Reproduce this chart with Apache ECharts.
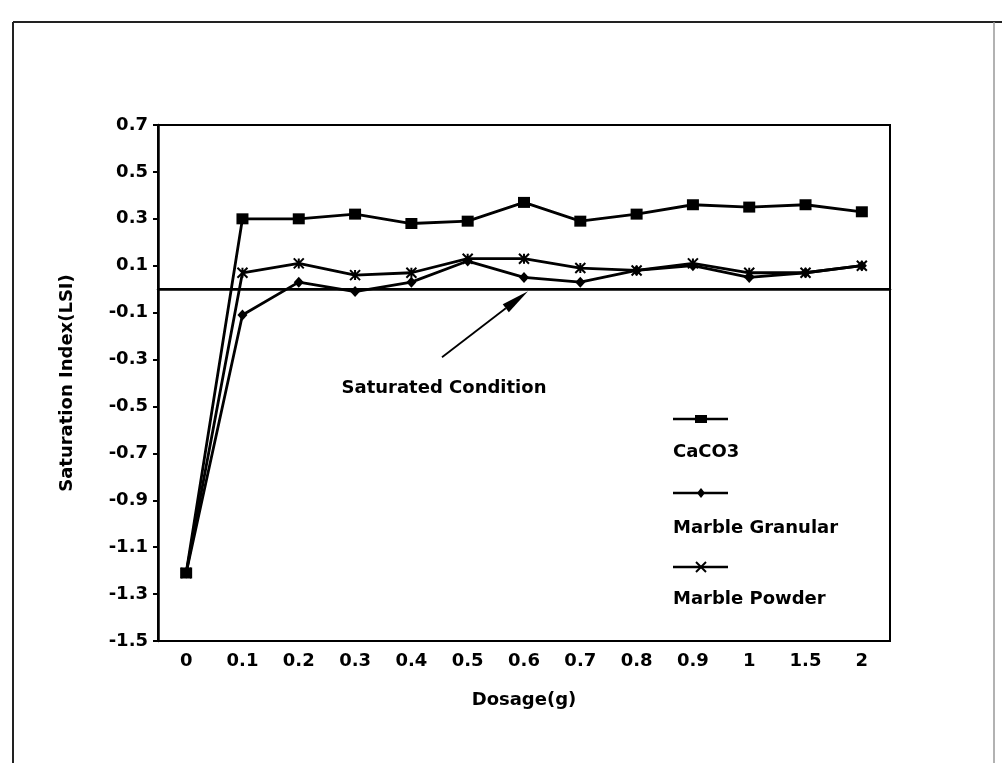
<!DOCTYPE html>
<html>
<head>
<meta charset="utf-8">
<script src="https://cdn.jsdelivr.net/npm/echarts@6/dist/echarts.min.js"></script>
<style>
  html, body { margin: 0; padding: 0; background: #fff; }
  #chart { width: 1002px; height: 763px; }
</style>
</head>
<body>
<div id="chart"></div>
<script>
// Dosage categories (g)
const dosage = ['0', '0.1', '0.2', '0.3', '0.4', '0.5', '0.6', '0.7', '0.8', '0.9', '1', '1.5', '2'];

// Langelier Saturation Index per dosage
const caco3          = [-1.21, 0.30, 0.30, 0.32, 0.28, 0.29, 0.37, 0.29, 0.32, 0.36, 0.35, 0.36, 0.33];
const marbleGranular = [-1.21, -0.11, 0.03, -0.01, 0.03, 0.12, 0.05, 0.03, 0.08, 0.10, 0.05, 0.07, 0.10];
const marblePowder   = [-1.21, 0.07, 0.11, 0.06, 0.07, 0.13, 0.13, 0.09, 0.08, 0.11, 0.07, 0.07, 0.10];

// Y-axis tick values
const yTicks = [-1.5, -1.3, -1.1, -0.9, -0.7, -0.5, -0.3, -0.1, 0.1, 0.3, 0.5, 0.7];

// LSI of a saturated solution
const saturatedLevel = 0;

const FONT = 'DejaVu Sans';
const INK = '#000';
const asteriskPath = 'path://M0,0L10,10M10,0L0,10M5,0L5,10';

const chart = echarts.init(document.getElementById('chart'), null, { renderer: 'canvas' });

const option = {
  backgroundColor: '#fff',
  animation: false,
  textStyle: { fontFamily: FONT, color: INK, fontWeight: 'bold' },
  grid: {
    left: 158, right: 112, top: 125, bottom: 122,
    show: true, borderColor: INK, borderWidth: 2, backgroundColor: 'transparent'
  },
  xAxis: {
    type: 'category',
    data: dosage,
    boundaryGap: true,
    name: 'Dosage(g)',
    nameLocation: 'middle',
    nameGap: 50,
    nameTextStyle: { fontFamily: FONT, fontWeight: 'bold', fontSize: 18, color: INK },
    axisLine: { lineStyle: { color: INK, width: 2.5 } },
    axisTick: { alignWithLabel: true, length: 5, lineStyle: { color: INK, width: 2 } },
    axisLabel: { fontFamily: FONT, fontWeight: 'bold', fontSize: 18, color: INK, margin: 11, interval: 0 },
    splitLine: { show: false }
  },
  yAxis: {
    type: 'value',
    min: -1.5,
    max: 0.7,
    name: 'Saturation Index(LSI)',
    nameLocation: 'middle',
    nameGap: 82,
    nameTextStyle: { fontFamily: FONT, fontWeight: 'bold', fontSize: 18, color: INK },
    axisLine: { show: true, lineStyle: { color: INK, width: 2.5 } },
    axisTick: { show: true, length: 5, customValues: yTicks, lineStyle: { color: INK, width: 2 } },
    axisLabel: {
      customValues: yTicks,
      fontFamily: FONT, fontWeight: 'bold', fontSize: 18, color: INK, margin: 10,
      formatter: v => v.toFixed(1)
    },
    splitLine: { show: false }
  },
  series: [
    {
      name: 'Marble Granular',
      type: 'line',
      data: marbleGranular,
      symbol: 'diamond',
      symbolSize: [10, 11],
      lineStyle: { color: INK, width: 2.8 },
      itemStyle: { color: INK },
      z: 2
    },
    {
      name: 'Marble Powder',
      type: 'line',
      data: marblePowder,
      symbol: asteriskPath,
      symbolSize: 10,
      lineStyle: { color: INK, width: 2.8 },
      itemStyle: { color: INK, borderColor: INK, borderWidth: 2 },
      z: 2
    },
    {
      name: 'CaCO3',
      type: 'line',
      data: caco3,
      symbol: 'rect',
      symbolSize: [12, 11],
      lineStyle: { color: INK, width: 2.8 },
      itemStyle: { color: INK },
      z: 3,
      markLine: {
        silent: true,
        symbol: 'none',
        label: { show: false },
        lineStyle: { color: INK, width: 2, type: 'solid' },
        data: [{ yAxis: saturatedLevel }]
      }
    }
  ]
};

chart.setOption(option);

// Annotation arrow pointing at the saturated-condition line
const tip = chart.convertToPixel({ gridIndex: 0 }, ['0.6', saturatedLevel]);
const tipX = tip[0] + 4, tipY = tip[1] + 2;
const tailX = tipX - 86, tailY = tipY + 66;
const dx = tipX - tailX, dy = tipY - tailY;
const len = Math.sqrt(dx * dx + dy * dy);
const ux = dx / len, uy = dy / len;
const headLen = 28, headHalf = 5;
const baseX = tipX - ux * headLen, baseY = tipY - uy * headLen;

// Legend entries: sample line with marker, name underneath
const legendLeft = 673;
const legendItems = [
  { name: 'CaCO3', lineY: 419, textY: 452, marker: 'rect' },
  { name: 'Marble Granular', lineY: 493, textY: 528, marker: 'diamond' },
  { name: 'Marble Powder', lineY: 567, textY: 599, marker: 'asterisk' }
];
const legendGraphics = [];
legendItems.forEach(it => {
  legendGraphics.push({
    type: 'line', silent: true,
    shape: { x1: legendLeft, y1: it.lineY, x2: legendLeft + 55, y2: it.lineY },
    style: { stroke: INK, lineWidth: 2.5 }
  });
  const cx = legendLeft + 28, cy = it.lineY;
  if (it.marker === 'rect') {
    legendGraphics.push({ type: 'rect', silent: true, shape: { x: cx - 6, y: cy - 4, width: 12, height: 8 }, style: { fill: INK } });
  } else if (it.marker === 'diamond') {
    legendGraphics.push({ type: 'polygon', silent: true, shape: { points: [[cx, cy - 5], [cx + 4, cy], [cx, cy + 5], [cx - 4, cy]] }, style: { fill: INK } });
  } else {
    legendGraphics.push({ type: 'line', silent: true, shape: { x1: cx - 5, y1: cy - 5, x2: cx + 5, y2: cy + 5 }, style: { stroke: INK, lineWidth: 2 } });
    legendGraphics.push({ type: 'line', silent: true, shape: { x1: cx + 5, y1: cy - 5, x2: cx - 5, y2: cy + 5 }, style: { stroke: INK, lineWidth: 2 } });
  }
  legendGraphics.push({
    type: 'text', silent: true, x: legendLeft, y: it.textY,
    style: { text: it.name, fill: INK, font: 'bold 18px "DejaVu Sans"', verticalAlign: 'middle' }
  });
});

chart.setOption({
  graphic: [
    // page frame
    { type: 'line', silent: true, shape: { x1: 13, y1: 22, x2: 1002, y2: 22 }, style: { stroke: '#222', lineWidth: 2 } },
    { type: 'line', silent: true, shape: { x1: 13, y1: 22, x2: 13, y2: 763 }, style: { stroke: '#222', lineWidth: 2 } },
    { type: 'line', silent: true, shape: { x1: 994, y1: 22, x2: 994, y2: 763 }, style: { stroke: '#999', lineWidth: 1.5 } },
    // annotation
    { type: 'line', silent: true, shape: { x1: tailX, y1: tailY, x2: baseX, y2: baseY }, style: { stroke: INK, lineWidth: 1.8 } },
    {
      type: 'polygon', silent: true,
      shape: { points: [[tipX, tipY], [baseX - uy * headHalf, baseY + ux * headHalf], [baseX + uy * headHalf, baseY - ux * headHalf]] },
      style: { fill: INK }
    },
    {
      type: 'text', silent: true, x: tailX + 2, y: tailY + 31,
      style: { text: 'Saturated Condition', fill: INK, font: 'bold 18px "DejaVu Sans"', align: 'center', verticalAlign: 'middle' }
    }
  ].concat(legendGraphics)
});
</script>
</body>
</html>
